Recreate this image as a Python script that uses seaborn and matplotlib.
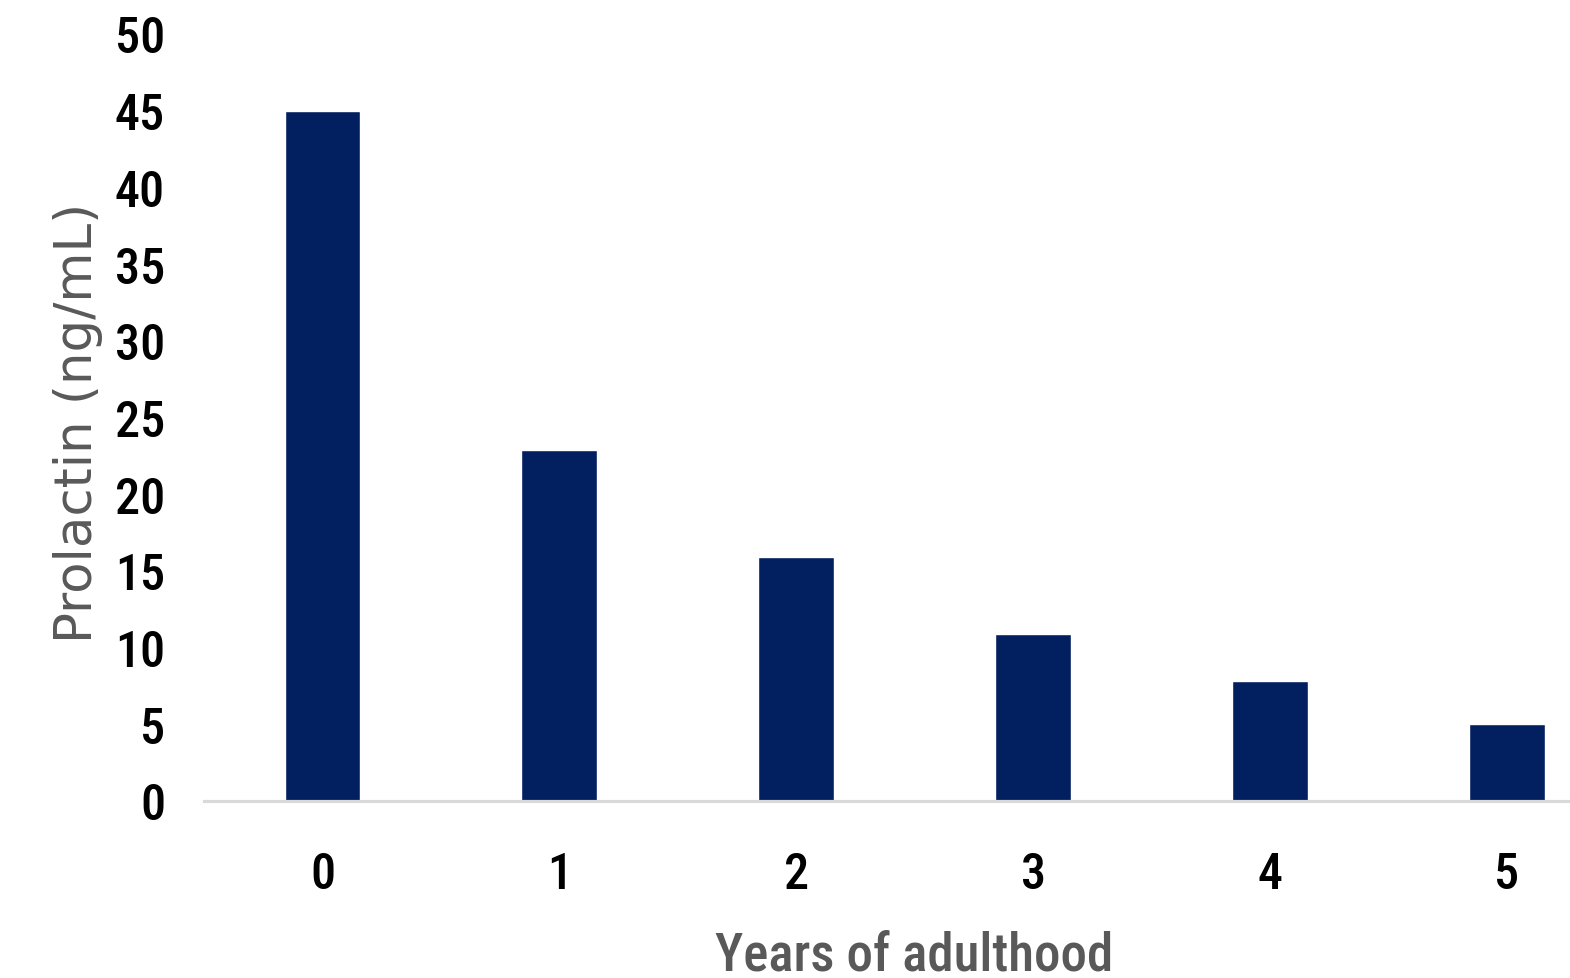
import os
import matplotlib
matplotlib.use("Agg")
import matplotlib.pyplot as plt
from matplotlib import font_manager as fm
import seaborn as sns
import pandas as pd

years = ["0", "1", "2", "3", "4", "5"]
prolactin = [45.0, 22.9, 15.9, 10.9, 7.8, 5.0]
y_ticks = [0, 5, 10, 15, 20, 25, 30, 35, 40, 45, 50]
x_title = "Years of adulthood"
y_title = "Prolactin (ng/mL)"


def pick_condensed():
    files = list({f.fname for f in fm.fontManager.ttflist} | set(fm.findSystemFonts()))
    prefs = ["robotocondensed-medium", "roboto_condensed-medium",
             "robotocondensed-regular", "roboto_condensed-regular",
             "notosans-condensedmedium", "notosans-condensed.", "notosans-condensedregular",
             "opensans-condensedregular", "opensans_condensed-regular", "opensans-condensed-regular",
             "dejavusanscondensed.", "liberationsansnarrow-regular"]
    for p in prefs:
        for fn in files:
            if p in os.path.basename(fn).lower() and "italic" not in os.path.basename(fn).lower():
                return fn
    bad = ("bold", "italic", "light", "thin", "extra", "semi", "black", "oblique", "mono", "serif")
    for fn in files:
        b = os.path.basename(fn).lower()
        if ("condensed" in b or "narrow" in b) and not any(x in b for x in bad):
            return fn
    return None


cond_file = pick_condensed()


def cprops(size):
    if cond_file:
        return fm.FontProperties(fname=cond_file, size=size)
    return fm.FontProperties(family="DejaVu Sans", size=size * 0.85)


sns.set_theme(style="white")
plt.rcParams["font.family"] = ["DejaVu Sans"]

df = pd.DataFrame({"year": years, "prolactin": prolactin})

fig = plt.figure(figsize=(15.7, 9.79), dpi=100)
ax = fig.add_axes([204 / 1570, 1 - 802 / 979, (1570 - 204) / 1570, (802 - 35) / 979])

sns.barplot(data=df, x="year", y="prolactin", order=years, color="#02205F",
            saturation=1, width=0.32, ax=ax)

ax.set_xlim(-0.5, 5.266)
ax.set_ylim(0, 50)
ax.set_yticks(y_ticks)
ax.set_yticklabels([str(t) for t in y_ticks])
for s in ["top", "right", "left"]:
    ax.spines[s].set_visible(False)
ax.spines["bottom"].set_color("#D9D9D9")
ax.spines["bottom"].set_linewidth(2.3)
ax.tick_params(axis="both", length=0, labelcolor="black")
ax.tick_params(axis="y", pad=28)
ax.tick_params(axis="x", pad=36)
for lab in ax.get_xticklabels() + ax.get_yticklabels():
    lab.set_fontproperties(cprops(36))
ax.set_xlabel("")
ax.set_ylabel("")
ax.grid(False)

fig.text(914 / 1570, 1 - 971 / 979, x_title, ha="center", va="baseline",
         fontproperties=cprops(38), color="#595959")
fig.text(78 / 1570, 1 - 423 / 979, y_title, ha="center", va="center",
         rotation=90, fontsize=37, color="#595959", family=["DejaVu Sans"])

fig.savefig("out.png", dpi=100)
